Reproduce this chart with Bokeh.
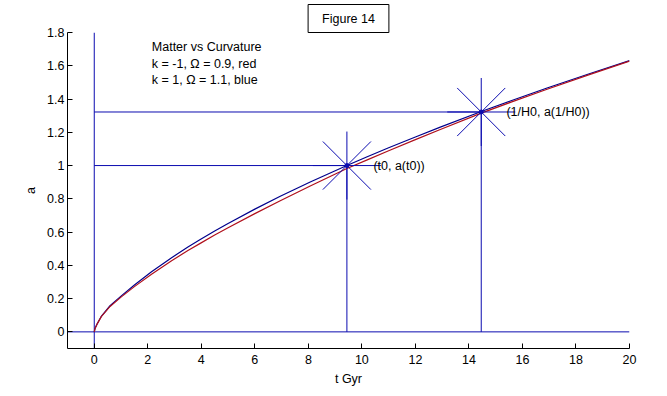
from bokeh.plotting import figure
from bokeh.models import Range1d, FixedTicker, Label
from bokeh.embed import file_html
from bokeh.resources import INLINE

# ---- data ----
t_gyr = [0, 0.03, 0.1, 0.27, 0.59, 1.0, 1.5, 2.14, 2.89, 3.5, 3.96, 4.5, 5.0, 6.0,
         6.95, 8.07, 9.44, 10.2, 11.0, 12.0, 12.93, 14.46, 15.6, 16.92, 18.5, 20.0]
a_blue = [0, 0.021, 0.046, 0.095, 0.157, 0.215, 0.282, 0.361, 0.446, 0.510, 0.555,
          0.607, 0.652, 0.738, 0.815, 0.901, 1.0, 1.053, 1.107, 1.172, 1.231, 1.325,
          1.391, 1.466, 1.552, 1.631]
a_red = [0, 0.021, 0.045, 0.093, 0.153, 0.209, 0.272, 0.347, 0.428, 0.489, 0.532,
         0.582, 0.626, 0.711, 0.788, 0.877, 0.982, 1.034, 1.089, 1.156, 1.217, 1.315,
         1.383, 1.459, 1.547, 1.628]

t0 = 9.44
a_t0 = 1.0
t_H = 14.46
a_H = 1.322

x_ticks = [0, 2, 4, 6, 8, 10, 12, 14, 16, 18, 20]
y_ticks = [0, 0.2, 0.4, 0.6, 0.8, 1, 1.2, 1.4, 1.6, 1.8]
y_tick_labels = ["0", "0.2", "0.4", "0.6", "0.8", "1", "1.2", "1.4", "1.6", "1.8"]

title_text = "Figure 14"
note_lines = ["Matter vs Curvature", "k = -1, \u03a9 = 0.9, red", "k = 1, \u03a9 = 1.1, blue"]
label_t0 = "(t0, a(t0))"
label_H = "(1/H0, a(1/H0))"

FONT = "Liberation Sans"
FS = "12.5px"
LINE_BLUE = "#0b0bb0"
CURVE_BLUE = "#00008c"
CURVE_RED = "#b0101c"

p = figure(width=651, height=388, output_backend="svg", toolbar_location=None,
           x_range=Range1d(-1, 20), y_range=Range1d(-0.1, 1.8),
           title=title_text,
           min_border_left=67, min_border_right=22, min_border_top=32,
           min_border_bottom=39)
p.outline_line_color = None
p.grid.visible = False
p.background_fill_color = "white"
p.border_fill_color = "white"

p.title.align = "center"
p.title.text_font = FONT
p.title.text_font_size = FS
p.title.text_font_style = "normal"
p.title.text_color = "black"
p.title.border_line_color = "black"
p.title.border_line_width = 1
p.title.background_fill_color = "white"
p.title.padding = dict(left=14, right=14, top=7, bottom=7)
p.title.standoff = 0
p.title.offset = -6

for ax in (p.xaxis[0], p.yaxis[0]):
    ax.major_tick_in = 5
    ax.major_tick_out = 0
    ax.minor_tick_line_color = None
    ax.axis_line_color = "black"
    ax.major_tick_line_color = "black"
    ax.major_label_text_font = FONT
    ax.major_label_text_font_size = FS
    ax.major_label_text_color = "black"
    ax.axis_label_text_font = FONT
    ax.axis_label_text_font_size = FS
    ax.axis_label_text_font_style = "normal"
    ax.axis_label_text_color = "black"

p.xaxis.ticker = FixedTicker(ticks=x_ticks)
p.yaxis.ticker = FixedTicker(ticks=y_ticks)
p.yaxis.major_label_overrides = {v: s for v, s in zip(y_ticks, y_tick_labels)}
p.xaxis.axis_label = "t Gyr"
p.yaxis.axis_label = "a"
p.xaxis.major_label_standoff = 6
p.xaxis.axis_label_standoff = 5
p.yaxis.major_label_standoff = 3
p.yaxis.axis_label_standoff = 6

# reference lines
seg_x0 = [0, -1, 0, t0, 0, t_H]
seg_y0 = [-0.1, 0, a_t0, 0, a_H, 0]
seg_x1 = [0, 20, t0, t0, t_H, t_H]
seg_y1 = [1.8, 0, a_t0, a_t0, a_H, a_H]
p.segment(x0=seg_x0, y0=seg_y0, x1=seg_x1, y1=seg_y1, line_color=LINE_BLUE, line_width=1)

# curves
p.line(t_gyr, a_blue, line_color=CURVE_BLUE, line_width=1.2)
p.line(t_gyr, a_red, line_color=CURVE_RED, line_width=1.2)

# star markers
p.scatter([t0, t_H], [a_t0, a_H], marker="asterisk", size=68,
          line_color=LINE_BLUE, line_width=1)
p.scatter([t0, t_H], [a_t0, a_H], marker="circle", size=4,
          line_color=LINE_BLUE, fill_color=LINE_BLUE)

# texts
p.add_layout(Label(x=10.43, y=a_t0, text=label_t0, text_font=FONT, text_font_size=FS,
                   text_baseline="middle", text_align="left", text_color="black"))
p.add_layout(Label(x=15.4, y=a_H, text=label_H, text_font=FONT, text_font_size=FS,
                   text_baseline="middle", text_align="left", text_color="black"))
for i, line in enumerate(note_lines):
    p.add_layout(Label(x=2.15, y=1.71 - 0.098 * i, text=line, text_font=FONT,
                       text_font_size=FS, text_baseline="middle", text_align="left",
                       text_color="black"))

open("out.html", "w").write(file_html(p, INLINE))
